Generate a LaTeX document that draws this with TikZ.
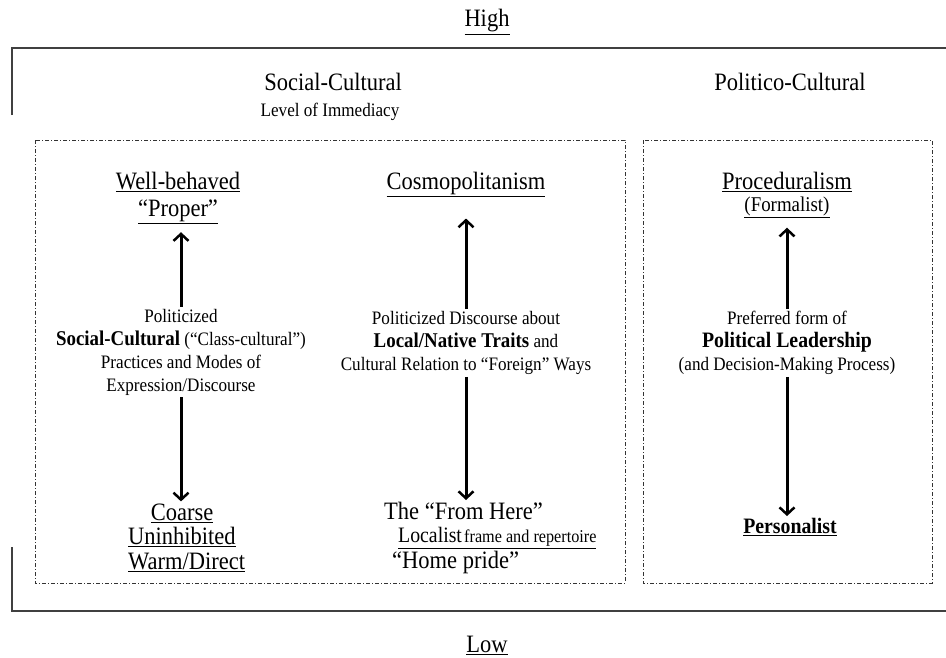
\documentclass[tikz,border=0pt]{standalone}
\usepackage{fontspec}
\setmainfont{Liberation Serif}[FakeStretch=0.9]
\usetikzlibrary{arrows.meta}

\begin{document}
\begin{tikzpicture}[x=1pt, y=-1pt,
		head/.style={inner sep=2pt, font=\fontsize{25}{30}\selectfont},
		pole/.style={inner sep=2pt, font=\fontsize{25}{30}\selectfont},
		midtext/.style={inner sep=2pt, align=center, font=\fontsize{19}{23}\selectfont},
		zone/.style={draw=black!80, line width=0.8pt, dash pattern=on 4pt off 2pt on 1pt off 2pt},
		frame/.style={draw=black!75, line width=1.4pt},
		flow/.style={-{Straight Barb[length=7pt,width=15pt,line width=2.5pt]}, line width=3pt},
	]
	\useasboundingbox (0,0) rectangle (946,657);

	% outer frame and the two zones
	\draw[frame] (12,115) -- (12,48) -- (946,48);
	\draw[frame] (12,547) -- (12,611) -- (946,611);
	\draw[zone] (35,140) rectangle (625,583);
	\draw[zone] (643,140) rectangle (932,583);

	\node[head] (high) at (487,22)   {\underline{High}};
	\node[head] (low)  at (487,645)  {\underline{Low}};
	\node[head] (soc)  at (333,82)   {Social-Cultural};
	\node[midtext] (imm) at (330,112) {Level of Immediacy};
	\node[head] (pol)  at (790,82)   {Politico-Cultural};

	% social-cultural column
	\node[pole] (well)   at (178,182) {\underline{Well-behaved}};
	\node[pole] (proper) at (178,212) {\underline{``Proper''}};
	\node[midtext] (scmid) at (181,352) {Politicized\\
		{\fontsize{21}{23}\selectfont\bfseries Social-Cultural} (``Class-cultural'')\\
		Practices and Modes of\\
		Expression/Discourse};
	\node[pole] (coarse) at (182,513)              {\underline{Coarse}};
	\node[pole, anchor=west] (uninh) at (126,537)  {\underline{Uninhibited}};
	\node[pole, anchor=west] (warm)  at (126,562)  {\underline{Warm/Direct}};

	% native traits column
	\node[pole] (cosmo) at (466,184) {\underline{Cosmopolitanism}};
	\node[midtext] (locmid) at (466,343) {Politicized Discourse about\\
		{\fontsize{21}{23}\selectfont\bfseries Local/Native Traits} and\\
		Cultural Relation to ``Foreign'' Ways};
	\node[pole, anchor=west] (fromhere) at (382,511) {The ``From Here''};
	\node[inner sep=1pt, anchor=west] (localist) at (397,538)
		{\underline{{\fontsize{22}{24}\selectfont Localist} {\fontsize{18}{22}\selectfont frame and repertoire}}};
	\node[pole, anchor=west] (pride) at (390,562) {``Home pride''};

	% politico-cultural column
	\node[pole] (proc)   at (787,182) {\underline{Proceduralism}};
	\node[midtext, font=\fontsize{21}{23}\selectfont] (formal) at (787,207) {\underline{(Formalist)}};
	\node[midtext] (leadmid) at (787,343) {Preferred form of\\
		{\fontsize{22}{23}\selectfont\bfseries Political Leadership}\\
		(and Decision-Making Process)};
	\node[pole, font=\fontsize{22}{26}\selectfont\bfseries] (person) at (790,527) {\underline{Personalist}};

	\draw[flow, shorten >=6pt] (scmid) -- (scmid |- proper.south);
	\draw[flow] (scmid) -- (scmid |- coarse.north);
	\draw[flow, shorten >=20pt] (locmid) -- (locmid |- cosmo.south);
	\draw[flow] (locmid) -- (locmid |- fromhere.north);
	\draw[flow, shorten >=8pt] (leadmid) -- (leadmid |- formal.south);
	\draw[flow] (leadmid) -- (leadmid |- person.north);
\end{tikzpicture}
\end{document}
